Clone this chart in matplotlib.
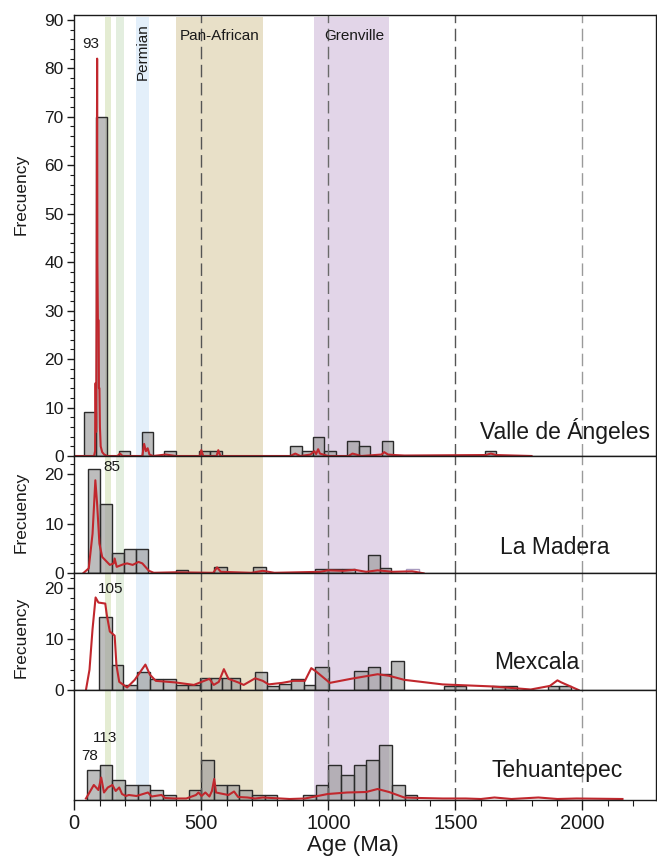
import matplotlib
matplotlib.use('Agg')
import matplotlib.pyplot as plt
from matplotlib.ticker import MultipleLocator, NullLocator
from matplotlib.colors import to_rgba

plt.rcParams['font.family'] = ['Liberation Sans', 'DejaVu Sans']

# ---------------- data ----------------
# Valle de Ángeles
va_left = [40, 85, 175, 265, 355, 490, 535, 850, 895, 940, 985, 1075, 1120, 1210, 1615]
va_right = [85, 130, 220, 310, 400, 535, 580, 895, 940, 985, 1030, 1120, 1165, 1255, 1660]
va_count = [9, 70, 1, 5, 1, 1, 1, 2, 1, 4, 1, 3, 2, 3, 1]
va_kde_age = [0, 78, 82, 83, 85, 86, 88, 90, 91, 93, 96, 97, 99, 101, 104, 110, 118, 130,
              170, 180, 190, 268, 275, 282, 289, 296, 310, 360, 400, 495, 500, 508, 560,
              567, 575, 850, 870, 890, 930, 945, 952, 960, 967, 980, 1000, 1080, 1095,
              1110, 1130, 1210, 1220, 1235, 1260, 1300, 1620, 1640, 1660, 1800]
va_kde_val = [0, 0, 1, 15, 15, 5, 30, 82, 40, 28, 28, 14, 14, 6, 2, 0.8, 0.3, 0,
              0, 0.5, 0, 0, 2.5, 1, 1.6, 0.3, 0, 0.3, 0, 0, 1.2, 0, 0,
              1.2, 0, 0, 0.5, 0, 0.3, 1.0, 0.4, 1.4, 0.5, 0.3, 0, 0, 0.5,
              0.3, 0, 0.3, 0.8, 0.3, 0.2, 0.1, 0.2, 0.5, 0.2, 0]

# La Madera
mad_left = [53, 102, 149, 194, 242, 399, 551, 705, 949, 1000, 1052, 1156, 1202]
mad_right = [102, 149, 194, 242, 290, 449, 602, 753, 1000, 1052, 1104, 1202, 1247]
mad_count = [21, 14, 4.2, 5, 5, 0.7, 1.2, 1.3, 0.9, 0.9, 0.9, 3.6, 1.0]
mad_open_left = [1304]
mad_open_right = [1357]
mad_open_count = [0.9]
mad_kde_age = [35, 57, 72, 83, 90, 99, 110, 140, 155, 159, 167, 192, 208, 230, 253, 268,
               294, 313, 396, 547, 562, 577, 697, 742, 788, 968, 998, 1059, 1104, 1149,
               1194, 1254, 1330, 1375]
mad_kde_val = [0, 1, 8, 18.8, 14, 6, 3.3, 1.7, 2.0, 3, 1.3, 1.8, 2.0, 1.7, 2.3, 2.0,
               0.5, 0.1, 0.2, 0.1, 1.2, 0.3, 0.1, 0.5, 0.1, 0.3, 0.6, 0.5, 0.7, 0.3,
               0.6, 0.3, 0.4, 0]

# Mexcala
mex_left = [98, 148, 190, 245, 299, 351, 401, 447, 494, 539, 583, 618, 712, 758, 806,
            855, 905, 946, 1101, 1156, 1202, 1247, 1455, 1499, 1643, 1694, 1865, 1910]
mex_right = [148, 190, 245, 299, 351, 401, 447, 494, 539, 583, 618, 652, 758, 806, 855,
             905, 946, 1003, 1156, 1202, 1247, 1299, 1499, 1543, 1694, 1744, 1910, 1955]
mex_count = [14.3, 5, 1, 3.5, 2.1, 2.1, 1, 1, 2.4, 2.4, 2.4, 2.4, 3.5, 0.7, 1.2,
             2.1, 0.9, 4.5, 3.7, 4.5, 3.1, 5.8, 0.8, 0.8, 0.7, 0.7, 0.8, 0.8]
mex_kde_age = [46, 60, 72, 84, 95, 122, 128, 140, 159, 166, 177, 208, 238, 280, 298, 321,
               396, 471, 532, 549, 569, 589, 607, 645, 667, 712, 742, 765, 818, 863, 908,
               933, 953, 1006, 1089, 1194, 1239, 1299, 1450, 1646, 1797, 1872, 1902,
               1917, 1985]
mex_kde_val = [0, 4, 12, 18.2, 17.2, 17, 14.8, 11.5, 10.7, 4.9, 1.6, 0.5, 2, 5.0, 3, 1.8,
               1.5, 1.0, 2.2, 1.0, 1.6, 4.1, 2.2, 1.5, 1, 2.3, 1.8, 1.1, 1.4, 1.8, 1.8,
               4.3, 3.6, 1.4, 2.2, 3.1, 2.8, 2.0, 1.1, 0.7, 0.1, 0.8, 1.9,
               1.5, 0]

# Tehuantepec
teh_left = [50, 100, 150, 200, 250, 300, 350, 450, 500, 550, 600, 650, 700, 750,
            900, 950, 1000, 1050, 1100, 1150, 1200, 1250, 1300]
teh_right = [100, 150, 200, 250, 300, 350, 400, 500, 550, 600, 650, 700, 750, 800,
             950, 1000, 1050, 1100, 1150, 1200, 1250, 1300, 1350]
teh_count = [6, 7, 4, 3, 3, 2, 1, 2, 8, 3, 3, 2, 1, 1, 1, 3, 7, 5, 7, 8, 11, 3, 1]
teh_kde_age = [46, 77, 95, 106, 117, 132, 150, 163, 177, 188, 203, 215, 245, 290, 305,
               343, 358, 396, 441, 479, 489, 501, 516, 532, 542, 551, 558, 577, 607, 629,
               645, 682, 712, 742, 848, 908, 998, 1074, 1149, 1194, 1239, 1299, 1360,
               1450, 1541, 1601, 1654, 1721, 1827, 1902, 1977, 2158]
teh_kde_val = [0.3, 3.0, 2.0, 4.5, 1.5, 2.5, 3.0, 1.8, 2.5, 1.2, 0.8, 1.0, 0.8, 1.5, 0.7,
               1.0, 0.4, 0.3, 0.3, 1.0, 1.5, 0.8, 1.5, 0.7, 1.8, 4.2, 1.5, 1.3, 1.0, 1.7,
               0.6, 0.5, 0.3, 0.5, 0.2, 0.3, 1.2, 1.5, 1.6, 2.2, 1.6, 0.5, 0.4,
               0.3, 0.3, 0.2, 0.5, 0.2, 0.5, 0.2, 0.3, 0.2]

# Shaded age intervals
band_start = [121, 164, 242, 402, 944]
band_end = [146, 197, 293, 742, 1238]
band_colors = ['#e4ecd2', '#e3eedf', '#e3effa', '#e8e0c8', '#e2d5e8']

ref_ages = [500, 1000, 1500, 2000]
ref_colors = ['#555555', '#6a6a6a', '#555555', '#9a9a9a']

samples = ['Valle de Ángeles', 'La Madera', 'Mexcala', 'Tehuantepec']

# ---------------- figure ----------------
W, H = 657, 856
fig = plt.figure(figsize=(W / 100, H / 100), dpi=100)

left_px, right_px = 73.5, 656
panels_px = [(15, 456), (456, 573.3), (573.3, 690), (690, 800)]
ylims = [91.0, 23.7, 22.95, 22.0]

data = [
    (va_left, va_right, va_count, va_kde_age, va_kde_val),
    (mad_left, mad_right, mad_count, mad_kde_age, mad_kde_val),
    (mex_left, mex_right, mex_count, mex_kde_age, mex_kde_val),
    (teh_left, teh_right, teh_count, teh_kde_age, teh_kde_val),
]
label_pos = [(1930, 5.2), (1890, 5.3), (1820, 5.5), (1900, 6.0)]

bar_fill = to_rgba('#9c9c9c', 0.66)

axes = []
for i, ((top, bot), yl) in enumerate(zip(panels_px, ylims)):
    ax = fig.add_axes([left_px / W, 1 - bot / H, (right_px - left_px) / W, (bot - top) / H])
    axes.append(ax)
    l, r, c, ka, kv = data[i]
    for s, e, col in zip(band_start, band_end, band_colors):
        ax.axvspan(s, e, ymin=0, ymax=(0.995 if i == 0 else 1), color=col,
                   lw=0, zorder=1)
    widths = [b - a for a, b in zip(l, r)]
    ax.bar(l, c, width=widths, align='edge', facecolor=bar_fill, edgecolor='#2b2b2b',
           linewidth=1.0, zorder=2)
    if i == 1:
        ow = [b - a for a, b in zip(mad_open_left, mad_open_right)]
        ax.bar(mad_open_left, mad_open_count, width=ow, align='edge', color='white',
               edgecolor='#a99cc0', linewidth=1.0, zorder=2)
    for ra, rc in zip(ref_ages, ref_colors):
        ax.axvline(ra, color=rc, lw=1.0, dashes=(9, 4), zorder=3)
    ax.plot(ka, kv, color='#c1272d', lw=1.5, zorder=4, solid_joinstyle='round')
    ax.set_xlim(-3, 2290)
    ax.set_ylim(0, yl)
    for sp in ax.spines.values():
        sp.set_linewidth(1.0)
        sp.set_color('#1a1a1a')
        sp.set_zorder(5)
    lx, ly = label_pos[i]
    ax.text(lx, ly, samples[i], fontsize=16.5, ha='center', va='center', color='#1a1a1a',
            zorder=6)
    if i < 3:
        ax.xaxis.set_major_locator(NullLocator())
        ax.xaxis.set_minor_locator(NullLocator())
        ax.yaxis.set_major_locator(MultipleLocator(10))
        ax.yaxis.set_minor_locator(MultipleLocator(2))
        ax.tick_params(axis='y', which='major', direction='out', length=5, width=1,
                       labelsize=12.5, pad=2, colors='#1a1a1a')
        ax.tick_params(axis='y', which='minor', direction='out', length=3, width=0.8,
                       colors='#1a1a1a')
    else:
        ax.yaxis.set_major_locator(NullLocator())
        ax.yaxis.set_minor_locator(NullLocator())
        ax.xaxis.set_major_locator(MultipleLocator(500))
        ax.xaxis.set_minor_locator(MultipleLocator(100))
        ax.tick_params(axis='x', which='major', direction='out', length=7, width=1,
                       labelsize=14.5, pad=3, colors='#1a1a1a')
        ax.tick_params(axis='x', which='minor', direction='out', length=4, width=0.8,
                       colors='#1a1a1a')

ax1, ax2, ax3, ax4 = axes

# band labels
ax1.text(268, 83.5, 'Permian', rotation=90, fontsize=11, ha='center', va='center',
         color='#1a1a1a', zorder=6)
ax1.text(572, 86.6, 'Pan-African', fontsize=11, ha='center', va='center', color='#1a1a1a',
         zorder=6)
ax1.text(1102, 86.6, 'Grenville', fontsize=11, ha='center', va='center', color='#1a1a1a',
         zorder=6)

# peak annotations
ax1.text(63, 85, '93', fontsize=11, ha='center', va='center', color='#1a1a1a', zorder=6)
ax2.text(150, 21.5, '85', fontsize=11, ha='center', va='center', color='#1a1a1a', zorder=6)
ax3.text(142, 19.9, '105', fontsize=11, ha='center', va='center', color='#1a1a1a', zorder=6)
ax4.text(123, 12.4, '113', fontsize=11, ha='center', va='center', color='#1a1a1a', zorder=6)
ax4.text(62, 8.8, '78', fontsize=11, ha='center', va='center', color='#1a1a1a', zorder=6)

# y labels
for yc in [194, 512, 637]:
    fig.text(21 / W, 1 - yc / H, 'Frecuency', rotation=90, fontsize=12.5, ha='center',
             va='center', color='#1a1a1a')

fig.text(353 / W, 1 - 846 / H, 'Age (Ma)', fontsize=16, ha='center', va='center',
         color='#1a1a1a')

fig.savefig('out.png', dpi=100)
